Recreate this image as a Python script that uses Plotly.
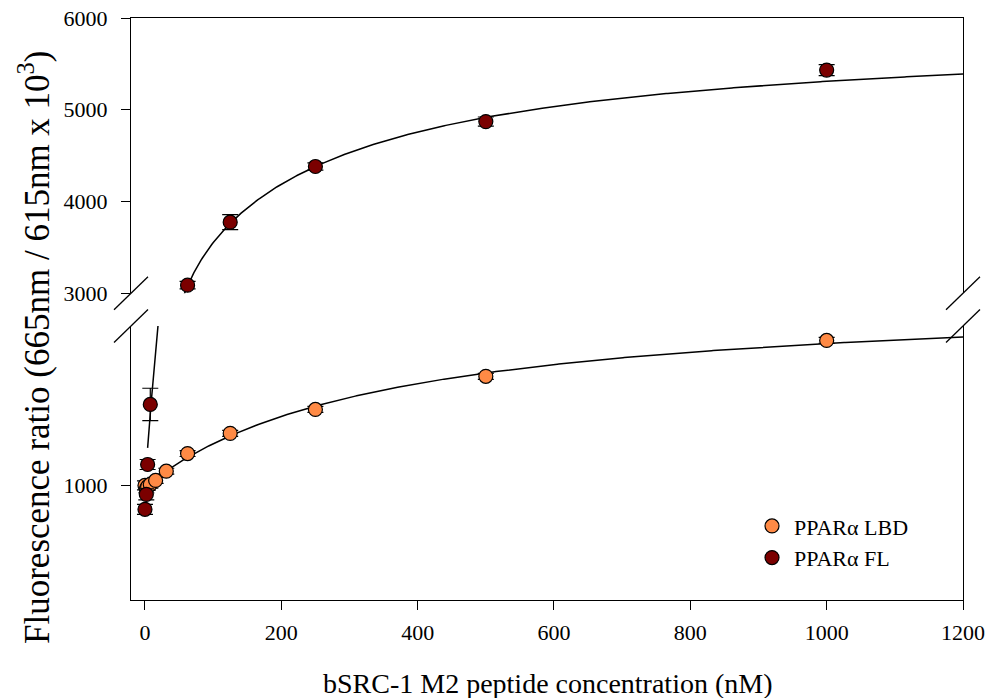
import numpy as np
import plotly.graph_objects as go

# ---- measured data -------------------------------------------------------
# bSRC-1 M2 peptide titration (nM)
lbd_conc = [0, 1.95, 3.9, 7.8, 15.6, 31.25, 62.5, 125, 250, 500, 1000]
lbd_ratio = [1000, 985, 995, 1004, 1020, 1057, 1128, 1209, 1305, 1438, 1582]
lbd_err = [18, 15, 15, 15, 12, 12, 12, 12, 12, 12, 12]

fl_conc = [0, 1.95, 3.9, 7.8, 62.5, 125, 250, 500, 1000]
fl_ratio = [904, 964, 1084, 1325, 3089, 3775, 4382, 4871, 5432]
fl_err = [20, 22, 20, 65, 40, 82, 40, 50, 60]

# ---- fitted binding curves ----------------------------------------------
# LBD: single-site hyperbola
LBD_Y0, LBD_BMAX, LBD_KD = 994.8, 776.2, 350.0
# FL: cooperative high-affinity site + low-affinity site
FL_Y0, FL_B1, FL_K1, FL_N, FL_B2, FL_K2 = 1063.0, 1524.5, 30.0, 2.0, 3269.0, 200.0

x_lbd = np.linspace(0, 1200, 600)
y_lbd = LBD_Y0 + LBD_BMAX * x_lbd / (LBD_KD + x_lbd)

x_fl = np.concatenate([np.linspace(3.9, 80, 400), np.linspace(80, 1200, 500)])
y_fl = (FL_Y0 + FL_B1 * x_fl**FL_N / (FL_K1**FL_N + x_fl**FL_N)
        + FL_B2 * x_fl / (FL_K2 + x_fl))

# ---- axis layout ---------------------------------------------------------
W, H = 988, 698
ML, MR, MT, MB = 131, 25, 18, 98
PW, PH = W - ML - MR, H - MT - MB

LOWER_RANGE = [540, 1640]
UPPER_RANGE = [3000, 6000]
lower_dom = [0, 274 / PH]
upper_dom = [(PH - 275.3) / PH, 1]

FONT = "Liberation Serif"
C_LBD = "#FF8A45"
C_FL = "#7B0000"

fig = go.Figure()

for xa, ya in (("x", "y"), ("x2", "y2")):
    first = xa == "x"
    fig.add_trace(go.Scatter(x=x_lbd, y=y_lbd, mode="lines", xaxis=xa, yaxis=ya,
                             line=dict(color="black", width=1.5), showlegend=False,
                             hoverinfo="skip"))
    fig.add_trace(go.Scatter(x=x_fl, y=y_fl, mode="lines", xaxis=xa, yaxis=ya,
                             line=dict(color="black", width=1.5), showlegend=False,
                             hoverinfo="skip"))
    fig.add_trace(go.Scatter(
        x=lbd_conc, y=lbd_ratio, mode="markers", xaxis=xa, yaxis=ya,
        name="PPARα LBD", showlegend=first, legendrank=1,
        error_y=dict(type="data", array=lbd_err, color="black", thickness=1.2, width=8),
        marker=dict(size=14, color=C_LBD, line=dict(color="black", width=1.2))))
    fig.add_trace(go.Scatter(
        x=fl_conc, y=fl_ratio, mode="markers", xaxis=xa, yaxis=ya,
        name="PPARα FL", showlegend=first, legendrank=2,
        error_y=dict(type="data", array=fl_err, color="black", thickness=1.2, width=8),
        marker=dict(size=14, color=C_FL, line=dict(color="black", width=1.2))))

axis_common = dict(showgrid=False, zeroline=False, linecolor="black", linewidth=1.3,
                   tickcolor="black", tickwidth=1.3, ticklen=9, automargin=False,
                   tickfont=dict(family=FONT, size=22, color="black"))

fig.update_layout(
    width=W, height=H,
    margin=dict(l=ML, r=MR, t=MT, b=MB),
    paper_bgcolor="white", plot_bgcolor="white",
    font=dict(family=FONT, size=22, color="black"),
    xaxis=dict(domain=[0, 1], anchor="y", range=[-20.5, 1200],
               tickvals=list(range(0, 1201, 200)), ticks="outside",
               showline=True, ticklabelstandoff=3, **axis_common),
    yaxis=dict(domain=lower_dom, anchor="x", range=LOWER_RANGE, tickvals=[1000],
               ticks="outside", showline=True, mirror=True, ticklabelstandoff=9,
               **axis_common),
    xaxis2=dict(domain=[0, 1], anchor="y2", matches="x", side="top",
                showline=True, showticklabels=False, ticks="", **axis_common),
    yaxis2=dict(domain=upper_dom, anchor="x2", range=UPPER_RANGE,
                tickvals=[3000, 4000, 5000, 6000], ticks="outside", showline=True,
                mirror=True, ticklabelstandoff=9, **axis_common),
    legend=dict(x=0.744, y=0.163, xanchor="left", yanchor="top", itemwidth=34,
                bgcolor="rgba(0,0,0,0)", font=dict(family=FONT, size=22)),
    showlegend=True,
)

# axis titles
fig.add_annotation(text="bSRC-1 M2 peptide concentration (nM)", xref="paper", yref="paper",
                   x=0.5, y=-(683 - (H - MB)) / PH, xanchor="center", yanchor="middle",
                   showarrow=False, font=dict(family=FONT, size=28))
fig.add_annotation(text="Fluorescence ratio (665nm / 615nm x 10<sup>3</sup>)",
                   xref="paper", yref="paper", x=-(ML - 34) / PW, y=(H - MB - 347) / PH,
                   xanchor="center", yanchor="middle", textangle=-90,
                   showarrow=False, font=dict(family=FONT, size=35))

# axis-break marks on both side spines
bdx, bdy = 17 / PW, 16.5 / PH
for xp in (0, 1):
    for yb in (upper_dom[0], lower_dom[1]):
        fig.add_shape(type="line", xref="paper", yref="paper",
                      x0=xp - bdx, y0=yb - bdy, x1=xp + bdx, y1=yb + bdy,
                      line=dict(color="black", width=1.3))

fig.write_html("out.html")
